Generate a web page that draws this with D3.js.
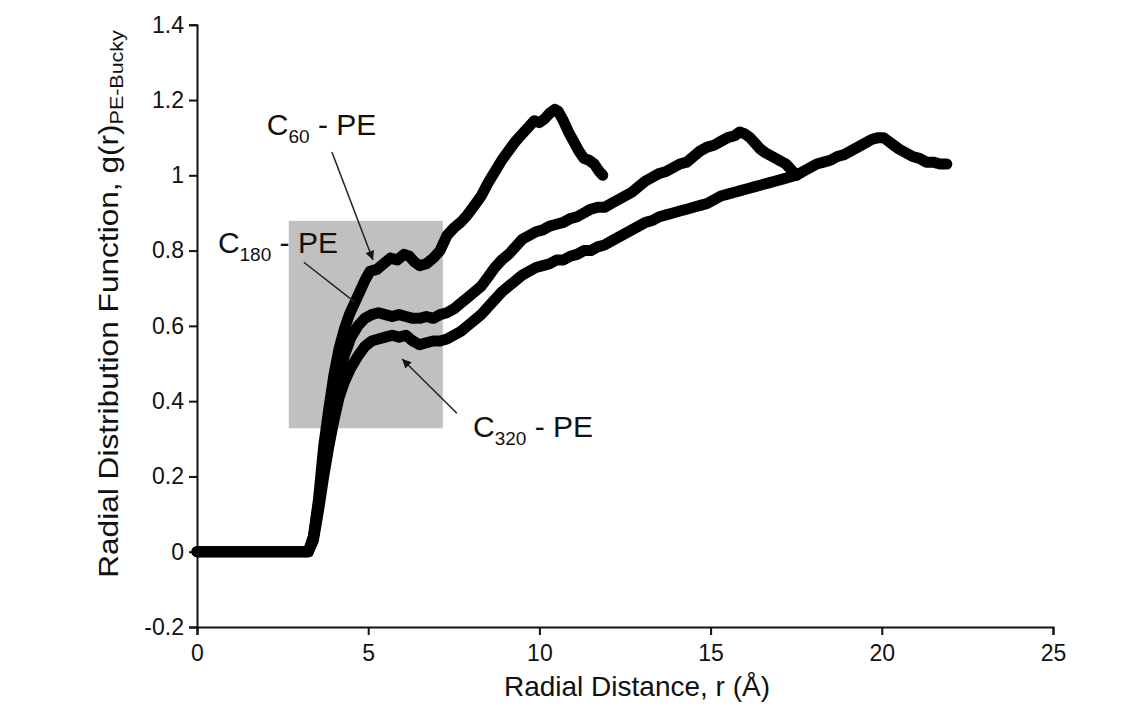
<!DOCTYPE html>
<html><head><meta charset="utf-8">
<script src="https://cdn.jsdelivr.net/npm/d3@7/dist/d3.min.js"></script>
<style>body{margin:0;background:#fff}svg{display:block}text{font-family:"Liberation Sans",Arial,Helvetica,sans-serif;fill:#111}</style>
</head><body><svg id="c" width="1143" height="718"></svg>
<script>
const xTicks=[0,5,10,15,20,25];
const yTicks=[-0.2,0,0.2,0.4,0.6,0.8,1,1.2,1.4];
const yTickLabels=["-0.2","0","0.2","0.4","0.6","0.8","1","1.2","1.4"];
const c60=[[0,0],[1,0],[2,0],[3,0],[3.25,0],[3.4,0.04],[3.55,0.14],[3.7,0.28],[3.85,0.38],[4.0,0.47],[4.15,0.54],[4.3,0.59],[4.45,0.63],[4.6,0.66],[4.75,0.69],[4.9,0.72],[5.05,0.745],[5.25,0.75],[5.45,0.765],[5.65,0.78],[5.85,0.775],[6.05,0.79],[6.2,0.785],[6.35,0.77],[6.5,0.76],[6.7,0.765],[6.9,0.78],[7.1,0.8],[7.3,0.84],[7.5,0.86],[7.7,0.875],[7.9,0.895],[8.1,0.92],[8.3,0.945],[8.5,0.98],[8.7,1.01],[8.9,1.04],[9.1,1.065],[9.3,1.09],[9.5,1.11],[9.7,1.13],[9.85,1.145],[10.0,1.14],[10.15,1.15],[10.3,1.165],[10.45,1.175],[10.55,1.17],[10.7,1.145],[10.85,1.115],[11.0,1.09],[11.15,1.065],[11.3,1.045],[11.45,1.04],[11.6,1.03],[11.75,1.01],[11.85,1.0]];
const c180=[[0,0],[1,0],[2,0],[3,0],[3.25,0],[3.4,0.04],[3.55,0.13],[3.7,0.24],[3.85,0.33],[4.0,0.41],[4.15,0.47],[4.3,0.52],[4.5,0.57],[4.7,0.6],[4.9,0.62],[5.1,0.63],[5.3,0.635],[5.5,0.63],[5.7,0.625],[5.9,0.63],[6.1,0.625],[6.3,0.62],[6.5,0.62],[6.7,0.625],[6.9,0.62],[7.1,0.63],[7.3,0.635],[7.5,0.645],[7.7,0.66],[7.9,0.675],[8.1,0.69],[8.3,0.705],[8.5,0.73],[8.7,0.755],[8.9,0.775],[9.1,0.79],[9.3,0.81],[9.5,0.83],[9.7,0.84],[9.9,0.85],[10.1,0.855],[10.3,0.865],[10.5,0.87],[10.7,0.875],[10.9,0.885],[11.1,0.89],[11.3,0.9],[11.5,0.91],[11.7,0.915],[11.9,0.915],[12.1,0.925],[12.3,0.935],[12.5,0.945],[12.7,0.955],[12.9,0.97],[13.1,0.985],[13.3,0.995],[13.5,1.005],[13.7,1.01],[13.9,1.02],[14.1,1.03],[14.3,1.035],[14.5,1.05],[14.7,1.065],[14.9,1.075],[15.1,1.08],[15.3,1.09],[15.5,1.1],[15.7,1.105],[15.85,1.115],[16.0,1.11],[16.15,1.1],[16.3,1.085],[16.45,1.07],[16.6,1.06],[16.8,1.05],[17.0,1.04],[17.2,1.03],[17.4,1.01],[17.5,1.0]];
const c320=[[0,0],[1,0],[2,0],[3,0],[3.25,0],[3.4,0.03],[3.55,0.11],[3.7,0.2],[3.85,0.28],[4.0,0.35],[4.15,0.41],[4.3,0.45],[4.5,0.49],[4.7,0.52],[4.9,0.545],[5.1,0.56],[5.3,0.565],[5.5,0.57],[5.7,0.575],[5.9,0.57],[6.1,0.575],[6.3,0.56],[6.5,0.55],[6.7,0.555],[6.9,0.56],[7.1,0.56],[7.3,0.565],[7.5,0.575],[7.7,0.585],[7.9,0.6],[8.1,0.615],[8.3,0.63],[8.5,0.65],[8.7,0.67],[8.9,0.69],[9.1,0.705],[9.3,0.72],[9.5,0.735],[9.7,0.745],[9.9,0.755],[10.1,0.76],[10.3,0.765],[10.5,0.775],[10.7,0.775],[10.9,0.785],[11.1,0.79],[11.3,0.8],[11.5,0.8],[11.7,0.81],[11.9,0.815],[12.1,0.825],[12.3,0.835],[12.5,0.845],[12.7,0.855],[12.9,0.865],[13.1,0.875],[13.3,0.88],[13.5,0.89],[13.7,0.895],[13.9,0.9],[14.1,0.905],[14.3,0.91],[14.5,0.915],[14.7,0.92],[14.9,0.925],[15.1,0.935],[15.3,0.945],[15.5,0.95],[15.7,0.955],[15.9,0.96],[16.1,0.965],[16.3,0.97],[16.5,0.975],[16.7,0.98],[16.9,0.985],[17.1,0.99],[17.3,0.995],[17.5,1.0],[17.7,1.01],[17.9,1.02],[18.1,1.03],[18.3,1.035],[18.5,1.04],[18.7,1.05],[18.9,1.055],[19.1,1.065],[19.3,1.075],[19.5,1.085],[19.7,1.095],[19.9,1.1],[20.05,1.1],[20.2,1.09],[20.35,1.08],[20.5,1.07],[20.7,1.06],[20.9,1.05],[21.1,1.045],[21.3,1.035],[21.5,1.035],[21.7,1.03],[21.9,1.03]];
const highlight={x0:2.68,x1:7.18,y0:0.328,y1:0.879};
const labels=[
 {main:"C",sub:"60",rest:" - PE",x:2.04,y:1.107},
 {main:"C",sub:"180",rest:" - PE",x:0.61,y:0.793},
 {main:"C",sub:"320",rest:" - PE",x:8.06,y:0.304}];
const pointers=[
 {x1:3.94,y1:1.062,x2:5.14,y2:0.775,head:true},
 {x1:3.12,y1:0.769,x2:4.61,y2:0.663,head:false},
 {x1:7.59,y1:0.368,x2:5.99,y2:0.512,head:true}];

const svg=d3.select("#c");
const x=d3.scaleLinear().domain([0,25]).range([197,1053]);
const y=d3.scaleLinear().domain([-0.2,1.4]).range([627,24.75]);

svg.append("defs").append("marker").attr("id","ah").attr("viewBox","0 0 10 10")
 .attr("refX",10).attr("refY",5).attr("markerWidth",13).attr("markerHeight",9)
 .attr("markerUnits","userSpaceOnUse").attr("orient","auto")
 .append("path").attr("d","M0,0L10,5L0,10Z").attr("fill","#111");

svg.append("rect").attr("x",x(highlight.x0)).attr("y",y(highlight.y1))
 .attr("width",x(highlight.x1)-x(highlight.x0)).attr("height",y(highlight.y0)-y(highlight.y1))
 .attr("fill","#c0c0c0");

const xa=svg.append("g").attr("transform",`translate(0,${y(-0.2)})`)
 .call(d3.axisBottom(x).tickValues(xTicks).tickSize(8).tickFormat(d3.format("d")));
const ya=svg.append("g").attr("transform",`translate(${x(0)},0)`)
 .call(d3.axisLeft(y).tickValues(yTicks).tickSize(8).tickFormat((d,i)=>yTickLabels[i]));
[xa,ya].forEach(a=>{a.selectAll("path").attr("stroke","#111").attr("stroke-width",2);
 a.selectAll("line").attr("stroke","#111").attr("stroke-width",2);
 a.selectAll("text").attr("font-size",23).attr("fill","#111").style("font-family",'"Liberation Sans",Arial,sans-serif');});
xa.selectAll("text").attr("dy","1.0em");
ya.selectAll("text").attr("x",-13);

const line=d3.line().x(d=>x(d[0])).y(d=>y(d[1])).curve(d3.curveLinear);
[c320,c180,c60].forEach(s=>{
 svg.append("path").datum(s).attr("d",line).attr("fill","none").attr("stroke","#000")
  .attr("stroke-width",11).attr("stroke-linejoin","round").attr("stroke-linecap","round");
});

pointers.forEach(p=>{
 const l=svg.append("line").attr("x1",x(p.x1)).attr("y1",y(p.y1)).attr("x2",x(p.x2)).attr("y2",y(p.y2))
  .attr("stroke","#222").attr("stroke-width",1.5);
 if(p.head) l.attr("marker-end","url(#ah)");
});

labels.forEach(l=>{
 const t=svg.append("text").attr("x",x(l.x)).attr("y",y(l.y)).attr("font-size",30);
 t.append("tspan").text(l.main);
 t.append("tspan").attr("font-size",19).attr("dy",8).text(l.sub);
 t.append("tspan").attr("dy",-8).text(l.rest);
});

svg.append("text").attr("x",637).attr("y",696).attr("text-anchor","middle").attr("font-size",28)
 .text("Radial Distance, r (Å)");

const yt=svg.append("text").attr("text-anchor","middle").attr("font-size",28)
 .attr("transform","translate(118,304) rotate(-90) scale(1.13,1)");
yt.append("tspan").text("Radial Distribution Function, g(r)");
yt.append("tspan").attr("font-size",19).attr("dy",5).text("PE-Bucky");
</script></body></html>
